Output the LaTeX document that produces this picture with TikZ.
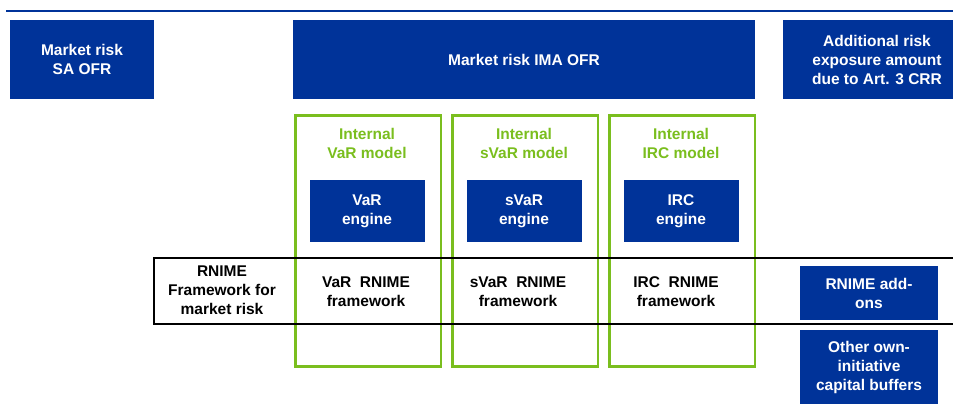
\documentclass[tikz,border=0pt]{standalone}
\usepackage{fontspec}
\setmainfont{Liberation Sans}
\definecolor{ecbblue}{RGB}{0,51,153}
\definecolor{modelgreen}{RGB}{122,190,30}
\usetikzlibrary{positioning}

\begin{document}
\begin{tikzpicture}[x=1pt,y=-1pt,
    txt/.style={font=\fontsize{15.5}{19}\selectfont\bfseries, align=center, inner sep=0pt},
    bluebox/.style={txt, fill=ecbblue, text=white, outer sep=0pt, anchor=north west},
    modelbox/.style={draw=modelgreen, line width=2.5pt, minimum width=145.5, minimum height=251, anchor=north west},
    ]
    \useasboundingbox (0,0) rectangle (953,412);

    % Top rule
    \coordinate (ruleL) at (6,11);
    \coordinate (ruleR) at (960,11);
    \draw[ecbblue, line width=2.5pt] (ruleL) -- (ruleR);

    % Own funds requirements
    \node[bluebox, minimum width=144, minimum height=79] (sa) at (10,20) {Market risk\\SA OFR};
    \node[bluebox, minimum width=462, minimum height=79] (ima) at (293,20) {Market risk IMA OFR};
    \node[bluebox, minimum width=188, minimum height=79] (art3) at (783,20) {Additional risk\\exposure amount\\due to Art. 3 CRR};

    % Internal models
    \foreach \name/\x/\lab in {var/294.25/VaR, svar/451.25/sVaR, irc/608.25/IRC} {
        \node[modelbox] (\name mod) at (\x,114.25) {};
        \node[txt, text=modelgreen] (\name title) at (\x+72.75,143) {Internal\\\lab{} model};
        \node[txt, fill=ecbblue, text=white, minimum width=115, minimum height=62] (\name eng) at (\x+72.75,211) {\lab\\engine};
    }

    % RNIME framework
    \node[draw, line width=1.7pt, minimum width=809, minimum height=66, anchor=north west, inner sep=0pt] (rnime) at (153,257) {};
    \node[txt] (rnimelab) at (222,290) {RNIME\\Framework for\\market risk};
    \node[txt] (varrn) at (366,292) {VaR\ \ RNIME\\framework};
    \node[txt] (svarrn) at (518,292) {sVaR\ \ RNIME\\framework};
    \node[txt] (ircrn) at (676,292) {IRC\ \ RNIME\\framework};

    % Add-ons and buffers
    \node[bluebox, minimum width=138, minimum height=54] (addons) at (800,266) {RNIME add-\\ons};
    \node[bluebox, minimum width=138, minimum height=74] (buffers) at (800,330) {Other own-\\initiative\\capital buffers};
\end{tikzpicture}
\end{document}
